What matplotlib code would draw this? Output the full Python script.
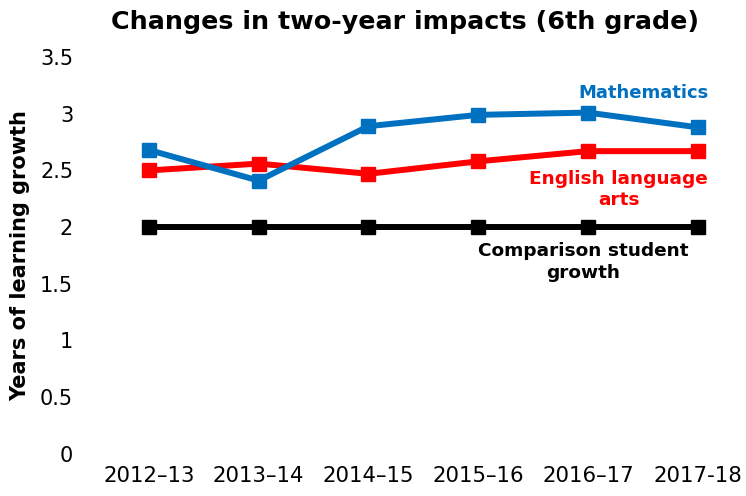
import matplotlib.pyplot as plt

years = ["2012\u201313", "2013\u201314", "2014\u201315", "2015\u201316", "2016\u201317", "2017-18"]
math_growth = [2.68, 2.41, 2.89, 2.99, 3.01, 2.88]
ela_growth = [2.50, 2.56, 2.47, 2.58, 2.67, 2.67]
comparison_growth = [2.0, 2.0, 2.0, 2.0, 2.0, 2.0]

plt.rcParams['font.family'] = ['DejaVu Sans']

fig = plt.figure(figsize=(7.46, 4.96), dpi=100)
ax = fig.add_axes([0.126, 0.085, 0.874, 0.80])

x = list(range(len(years)))
ax.plot(x, comparison_growth, color='black', lw=4.3, marker='s', ms=10.5)
ax.plot(x, ela_growth, color='#FF0000', lw=4.3, marker='s', ms=10.5)
ax.plot(x, math_growth, color='#0070C0', lw=4.3, marker='s', ms=10.5)

ax.set_xlim(-0.5, 5.44)
ax.set_ylim(0, 3.5)
ax.set_yticks([0, 0.5, 1, 1.5, 2, 2.5, 3, 3.5])
ax.set_yticklabels(["0", "0.5", "1", "1.5", "2", "2.5", "3", "3.5"])
ax.set_xticks(x)
ax.set_xticklabels(years)
ax.tick_params(axis='x', length=0, labelsize=15.3, pad=9)
ax.tick_params(axis='y', length=0, labelsize=15, pad=15)
for s in ax.spines.values():
    s.set_visible(False)

fig.text(20 / 746, 0.484, "Years of learning growth", rotation=90, ha='center', va='center',
         fontsize=15, fontweight='bold')
fig.text(0.543, 0.956, "Changes in two-year impacts (6th grade)", ha='center', va='center',
         fontsize=18.3, fontweight='bold')

ax.text(5.10, 3.18, "Mathematics", color='#0070C0', fontsize=13, fontweight='bold',
        ha='right', va='center')
ax.text(4.28, 2.33, "English language\narts", color='#FF0000', fontsize=13.3, fontweight='bold',
        ha='center', va='center', linespacing=1.25)
ax.text(3.96, 1.69, "Comparison student\ngrowth", color='black', fontsize=13.3, fontweight='bold',
        ha='center', va='center', linespacing=1.25)

fig.savefig("out.png", dpi=100)
